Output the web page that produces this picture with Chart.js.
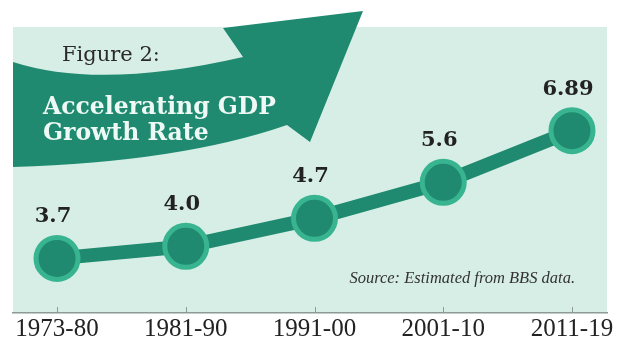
<!DOCTYPE html>
<html><head><meta charset="utf-8">
<script src="https://cdn.jsdelivr.net/npm/chart.js@4"></script>
<style>html,body{margin:0;padding:0;background:#fff}</style>
</head><body>
<canvas id="c" width="620" height="340"></canvas>
<script>
const categories = ['1973-80', '1981-90', '1991-00', '2001-10', '2011-19'];
const growthRates = [3.7, 4.0, 4.7, 5.6, 6.89];
const valueLabels = ['3.7', '4.0', '4.7', '5.6', '6.89'];
const figureLabel = 'Figure 2:';
const titleLines = ['Accelerating GDP', 'Growth Rate'];
const sourceNote = 'Source: Estimated from BBS data.';

const GREEN = '#1f8a6f';
const RING = '#38b590';
const PANEL = '#d7eee6';
const AXIS = '#8c9995';

const decor = {
  id: 'decor',
  beforeDraw(chart) {
    const ctx = chart.ctx, ca = chart.chartArea;
    ctx.save();
    ctx.fillStyle = '#ffffff';
    ctx.fillRect(0, 0, chart.width, chart.height);
    ctx.fillStyle = PANEL;
    ctx.fillRect(ca.left, ca.top, ca.right - ca.left, ca.bottom - ca.top);
    ctx.restore();
  },
  beforeDatasetsDraw(chart) {
    const ctx = chart.ctx;
    ctx.save();
    // sweeping arrow
    ctx.fillStyle = GREEN;
    ctx.beginPath();
    ctx.moveTo(13, 62);
    ctx.quadraticCurveTo(100, 90, 243, 57);
    ctx.lineTo(223, 28);
    ctx.lineTo(363, 11);
    ctx.lineTo(310, 142);
    ctx.lineTo(287, 125);
    ctx.quadraticCurveTo(180, 162, 13, 167);
    ctx.closePath();
    ctx.fill();
    // titles
    ctx.textAlign = 'left';
    ctx.textBaseline = 'alphabetic';
    ctx.fillStyle = '#2a2a2a';
    ctx.font = '21px "DejaVu Serif"';
    ctx.fillText(figureLabel, 62, 61);
    ctx.fillStyle = '#eef9f5';
    ctx.font = 'bold 23.5px "DejaVu Serif"';
    ctx.fillText(titleLines[0], 43, 114);
    ctx.fillText(titleLines[1], 43, 140);
    ctx.restore();
  },
  afterDatasetsDraw(chart) {
    const ctx = chart.ctx, ca = chart.chartArea;
    const xs = chart.scales.x;
    ctx.save();
    // inward tick marks
    ctx.strokeStyle = AXIS;
    ctx.lineWidth = 1;
    categories.forEach((c, i) => {
      const x = Math.round(xs.getPixelForValue(i)) + 0.5;
      ctx.beginPath();
      ctx.moveTo(x, ca.bottom - 6);
      ctx.lineTo(x, ca.bottom);
      ctx.stroke();
    });
    // value labels
    const meta = chart.getDatasetMeta(0);
    ctx.fillStyle = '#222';
    ctx.font = 'bold 21px "DejaVu Serif"';
    ctx.textAlign = 'center';
    ctx.textBaseline = 'alphabetic';
    meta.data.forEach((pt, i) => {
      ctx.fillText(valueLabels[i], pt.x - 4, pt.y - 36);
    });
    // source note
    ctx.fillStyle = '#333';
    ctx.font = 'italic 16.5px "Liberation Serif"';
    ctx.textAlign = 'right';
    ctx.fillText(sourceNote, 575, 283);
    ctx.restore();
  }
};

new Chart(document.getElementById('c'), {
  type: 'line',
  data: {
    datasets: [{
      data: growthRates.map((v, i) => ({ x: i, y: v })),
      borderColor: GREEN,
      borderWidth: 14,
      pointRadius: 21,
      pointHoverRadius: 21,
      pointBackgroundColor: GREEN,
      pointBorderColor: RING,
      pointBorderWidth: 5,
      tension: 0,
      clip: false
    }]
  },
  options: {
    responsive: false,
    animation: false,
    events: [],
    devicePixelRatio: 1,
    layout: { autoPadding: false, padding: { top: 27, left: 13, right: 13, bottom: 0 } },
    plugins: { legend: { display: false }, tooltip: { enabled: false } },
    scales: {
      x: {
        type: 'linear',
        min: -0.342,
        max: 4.272,
        afterBuildTicks: s => { s.ticks = categories.map((c, i) => ({ value: i })); },
        afterFit: s => { s.height = 27; s.paddingLeft = 0; s.paddingRight = 0; },
        grid: { display: false },
        border: { display: true, color: AXIS, width: 1.5 },
        ticks: {
          autoSkip: false,
          maxRotation: 0,
          padding: -4,
          color: '#222',
          font: { family: 'Liberation Serif', size: 25, lineHeight: 1 },
          callback: v => categories[v]
        }
      },
      y: { display: false, min: 2.336, max: 9.478 }
    }
  },
  plugins: [decor]
});
</script>
</body></html>
